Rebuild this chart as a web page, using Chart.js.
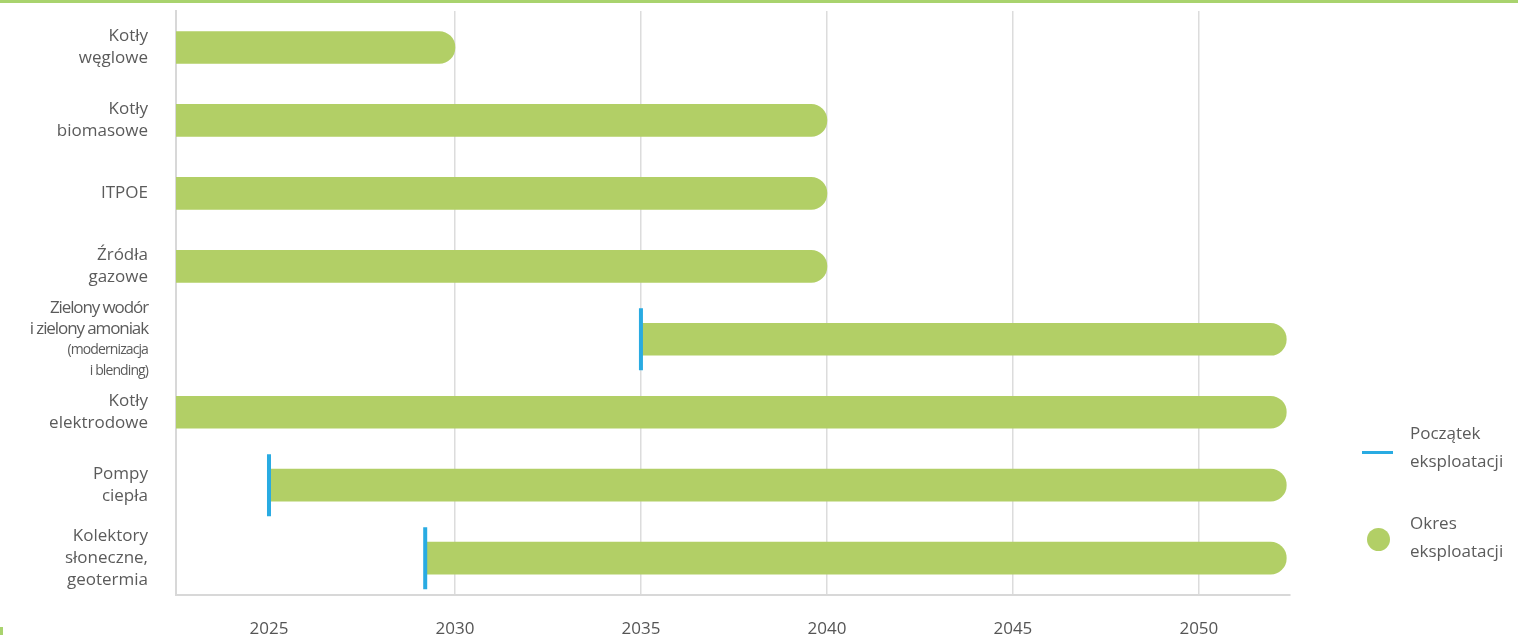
<!DOCTYPE html>
<html lang="pl">
<head>
<meta charset="utf-8">
<title>Okres eksploatacji źródeł</title>
<script src="https://cdn.jsdelivr.net/npm/chart.js@4.4.1/dist/chart.umd.min.js"></script>
<style>
  html, body { margin: 0; padding: 0; background: #fff; }
  #wrap { position: relative; width: 1524px; height: 635px; overflow: hidden; font-family: "Open Sans", sans-serif; color: #5b5b5b; }
  #topline { position: absolute; left: 0; top: 0; width: 1518px; height: 3px; background: #a9d36e; }
  #corner { position: absolute; left: 0; top: 627px; width: 3px; height: 8px; background: #a9d36e; }
  .legend-text { position: absolute; left: 1410px; font-size: 17px; line-height: 28px; }
  #leg-start { position: absolute; left: 1362px; top: 451px; width: 31px; height: 3px; background: #29abe2; }
  #leg-period { position: absolute; left: 1367px; top: 528px; width: 23px; height: 23px; border-radius: 50%; background: #b2cf66; }
</style>
</head>
<body>
<div id="wrap">
  <canvas id="chart" width="1524" height="635"></canvas>
  <div id="topline"></div>
  <div id="corner"></div>
  <div id="leg-start"></div>
  <div class="legend-text" style="top:419px">Początek<br>eksploatacji</div>
  <div id="leg-period"></div>
  <div class="legend-text" style="top:509px">Okres<br>eksploatacji</div>
</div>
<script>
// categories, one entry per row (lines as printed)
const categories = [
  ['Kotły', 'węglowe'],
  ['Kotły', 'biomasowe'],
  ['ITPOE'],
  ['Źródła', 'gazowe'],
  ['Zielony wodór', 'i zielony amoniak', '(modernizacja', 'i blending)'],
  ['Kotły', 'elektrodowe'],
  ['Pompy', 'ciepła'],
  ['Kolektory', 'słoneczne,', 'geotermia']
];
// lines of the hydrogen label printed in smaller type
const smallLines = ['(modernizacja', 'i blending)'];

// period of operation [from, to] in years
const periodStart = [2022.5, 2022.5, 2022.5, 2022.5, 2035, 2022.5, 2025, 2029.2];
const periodEnd = [2030, 2040, 2040, 2040, 2052.35, 2052.35, 2052.35, 2052.35];
// start of operation markers (null = none)
const startMarkers = [null, null, null, null, 2035, null, 2025, 2029.2];

const xTicks = [2025, 2030, 2035, 2040, 2045, 2050];
const xMin = 2022.5;
const xMax = 2052.45;

const labels = categories.map(c => c.join(' '));

// draws the multi-line row labels on the left
const rowLabels = {
  id: 'rowLabels',
  afterDraw(chart) {
    const ctx = chart.ctx;
    const y = chart.scales.y;
    ctx.save();
    ctx.fillStyle = '#5b5b5b';
    ctx.textAlign = 'right';
    ctx.textBaseline = 'middle';
    categories.forEach((lines, i) => {
      const cy = y.getPixelForValue(i);
      const tight = lines.length > 3;
      const lh = tight ? 21 : 22;
      const top = cy - (lines.length - 1) * lh / 2;
      lines.forEach((line, j) => {
        const small = smallLines.includes(line);
        ctx.font = (small ? '14px' : '17px') + ' "Open Sans", sans-serif';
        ctx.letterSpacing = tight ? (small ? '-0.9px' : '-1.1px') : '0px';
        ctx.fillText(line, 148, top + j * lh);
      });
    });
    ctx.restore();
  }
};

new Chart(document.getElementById('chart'), {
  data: {
    labels,
    datasets: [
      {
        type: 'line',
        label: 'Początek eksploatacji',
        data: startMarkers,
        showLine: false,
        pointStyle: 'line',
        rotation: 90,
        radius: 31,
        hoverRadius: 31,
        borderWidth: 4,
        borderColor: '#29abe2',
        backgroundColor: '#29abe2',
        order: 0
      },
      {
        type: 'bar',
        label: 'Okres eksploatacji',
        data: periodStart.map((s, i) => [s, periodEnd[i]]),
        backgroundColor: '#b2cf66',
        barThickness: 32,
        borderSkipped: false,
        borderRadius: { topLeft: 0, bottomLeft: 0, topRight: 16, bottomRight: 16 },
        order: 1
      }
    ]
  },
  options: {
    indexAxis: 'y',
    responsive: false,
    animation: false,
    layout: { autoPadding: false, padding: { left: 176, right: 234, top: 11, bottom: -28 } },
    plugins: {
      legend: { display: false },
      tooltip: { enabled: false }
    },
    scales: {
      x: {
        type: 'linear',
        position: 'bottom',
        min: xMin,
        max: xMax,
        afterBuildTicks: scale => {
          scale.ticks = xTicks.map(v => ({ value: v }));
        },
        grid: {
          drawTicks: false,
          lineWidth: 1.5,
          color: c => (c.tick && c.tick.value === 2025) ? 'rgba(0,0,0,0)' : '#dcdcdc'
        },
        border: { display: true, color: '#d8d8d8', width: 2 },
        ticks: {
          padding: 24,
          color: '#555555',
          font: { family: '"Open Sans", sans-serif', size: 17 },
          callback: v => String(v)
        }
      },
      y: {
        type: 'category',
        offset: true,
        grid: { display: false, drawTicks: false },
        border: { display: true, color: '#d8d8d8', width: 2 },
        ticks: { display: false }
      }
    }
  },
  plugins: [rowLabels]
});
</script>
</body>
</html>
